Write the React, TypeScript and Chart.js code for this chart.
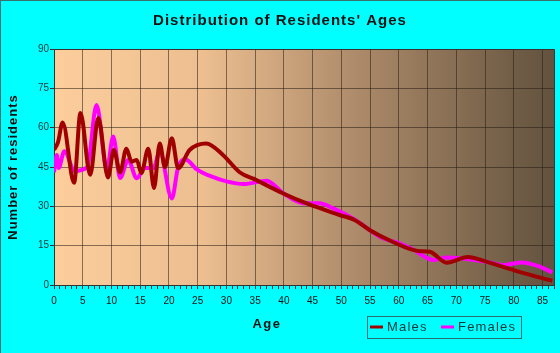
import { useEffect, useRef } from 'react';
import { Chart, registerables } from 'chart.js';

Chart.register(...registerables);

const chartTitle = "Distribution of Residents' Ages";
const xAxisTitle = 'Age';
const yAxisTitle = 'Number of residents';
const seriesNames = ['Males', 'Females'];

const maleAges = [0, 0.7, 1.5, 3.5, 4.6, 6.3, 7.7, 9.4, 10.4, 11.5, 12.6, 13.5, 14.4, 15.2, 16.4, 17.4, 18.4, 19.3, 20.5, 21.6, 23.6, 26.5, 29.4, 32.3, 35.2, 39.8, 44.2, 49.7, 52.3, 54.9, 58.9, 63.3, 65.4, 68.3, 72, 75.2, 81, 86.7];
const maleValues = [51.5, 54.5, 62, 39, 65.6, 42, 63.7, 41, 51.5, 43, 52, 47, 47.7, 42.7, 52, 37, 54, 45, 56, 44.6, 51.5, 54, 49.6, 43, 40, 35, 30.9, 26.7, 24.8, 21, 16.5, 13, 12.7, 8.5, 10.7, 8.9, 5, 1.6];

const femaleAges = [0, 0.5, 0.8, 1.8, 3.6, 5.8, 7.4, 9.2, 10.3, 11.5, 12.9, 14.4, 15.8, 17.3, 18.4, 20.5, 21.6, 22.8, 24.9, 27.6, 30, 33, 37, 39.9, 43.3, 46.2, 48.6, 52.3, 57.2, 60.1, 62.5, 65, 66, 68.3, 75.2, 78.1, 81.5, 84.5, 86.7];
const femaleValues = [43, 49.6, 44.6, 51, 43.5, 45, 68.6, 44, 56.6, 40.8, 47.7, 40.7, 44.6, 44.6, 50.8, 33, 45, 48, 44, 41.2, 39.5, 38.5, 39.8, 35, 31.2, 31.2, 29.2, 25, 17.8, 15.9, 13.5, 10.2, 9.5, 10.5, 8.9, 7.6, 8.6, 7, 4.8];

const xMin = 0;
const xMax = 87;
const xLabelStep = 5;
const yMin = 0;
const yMax = 90;
const yStep = 15;

const FONT = '"Liberation Sans", Arial, sans-serif';
const MALE_COLOR = '#a00000';
const FEMALE_COLOR = '#ff00ff';
const GRID_COLOR = 'rgba(40,30,20,0.55)';
const AXIS_COLOR = '#333333';

export default function App() {
  const ref = useRef<HTMLCanvasElement>(null);

  useEffect(() => {
    document.body.style.margin = '0';
    const canvas = ref.current;
    if (!canvas) return;

    const decor = {
      id: 'decor',
      beforeDraw(chart: any) {
        const { ctx, chartArea: a, width, height } = chart;
        ctx.save();
        ctx.fillStyle = '#00ffff';
        ctx.fillRect(0, 0, width, height);
        ctx.fillStyle = '#3a7070';
        ctx.fillRect(0, 0, width, 1);
        ctx.fillRect(0, 0, 1, height);
        const g = ctx.createLinearGradient(a.left, 0, a.right, 0);
        g.addColorStop(0, 'rgb(253,206,156)');
        g.addColorStop(0.3, 'rgb(236,190,144)');
        g.addColorStop(0.62, 'rgb(170,136,104)');
        g.addColorStop(1, 'rgb(98,82,62)');
        ctx.fillStyle = g;
        ctx.fillRect(a.left, a.top, a.right - a.left, a.bottom - a.top);
        ctx.restore();
      },
      beforeDatasetsDraw(chart: any) {
        const { ctx, chartArea: a } = chart;
        ctx.save();
        ctx.strokeStyle = AXIS_COLOR;
        ctx.lineWidth = 1;
        ctx.beginPath();
        ctx.moveTo(a.left, a.top + 0.5);
        ctx.lineTo(a.right + 0.5, a.top + 0.5);
        ctx.lineTo(a.right + 0.5, a.bottom);
        ctx.stroke();
        ctx.restore();
      },
      afterDraw(chart: any) {
        const { ctx } = chart;
        ctx.save();
        ctx.fillStyle = '#111111';
        ctx.textBaseline = 'middle';
        ctx.textAlign = 'center';
        ctx.font = `bold 15px ${FONT}`;
        (ctx as any).letterSpacing = '1px';
        ctx.fillText(chartTitle, 280, 21);

        ctx.font = `bold 13px ${FONT}`;
        (ctx as any).letterSpacing = '1.5px';
        ctx.fillText(xAxisTitle, 267, 324);

        ctx.save();
        ctx.translate(13, 167);
        ctx.rotate(-Math.PI / 2);
        (ctx as any).letterSpacing = '1px';
        ctx.fillText(yAxisTitle, 0, 0);
        ctx.restore();

        // legend
        ctx.strokeStyle = '#2a7070';
        ctx.lineWidth = 1;
        ctx.strokeRect(367.5, 316.5, 154, 22);
        ctx.lineWidth = 3;
        ctx.strokeStyle = MALE_COLOR;
        ctx.beginPath();
        ctx.moveTo(370, 327);
        ctx.lineTo(383, 327);
        ctx.stroke();
        ctx.strokeStyle = FEMALE_COLOR;
        ctx.beginPath();
        ctx.moveTo(441, 327);
        ctx.lineTo(454, 327);
        ctx.stroke();
        ctx.fillStyle = '#103838';
        ctx.font = `13px ${FONT}`;
        (ctx as any).letterSpacing = '1.2px';
        ctx.textAlign = 'left';
        ctx.fillText(seriesNames[0], 387, 327.5);
        ctx.fillText(seriesNames[1], 458, 327.5);
        ctx.restore();
      },
    };

    const chart = new Chart(canvas, {
      type: 'line',
      data: {
        datasets: [
          {
            label: seriesNames[0],
            data: maleAges.map((x, i) => ({ x, y: maleValues[i] })),
            borderColor: MALE_COLOR,
            borderWidth: 4,
            pointRadius: 0,
            cubicInterpolationMode: 'monotone',
            fill: false,
          },
          {
            label: seriesNames[1],
            data: femaleAges.map((x, i) => ({ x, y: femaleValues[i] })),
            borderColor: FEMALE_COLOR,
            borderWidth: 4,
            pointRadius: 0,
            cubicInterpolationMode: 'monotone',
            fill: false,
          },
        ],
      },
      options: {
        responsive: false,
        animation: false,
        layout: { padding: { top: 49, right: 6, left: 0, bottom: 0 } },
        plugins: {
          legend: { display: false },
          title: { display: false },
          tooltip: { enabled: false },
        },
        scales: {
          x: {
            type: 'linear',
            min: xMin,
            max: xMax,
            afterFit: (s: any) => {
              s.height = 68;
            },
            ticks: {
              stepSize: 1,
              autoSkip: false,
              maxRotation: 0,
              padding: 6,
              color: '#111111',
              font: { family: FONT, size: 10 },
              callback: (v: any) => (Number(v) % xLabelStep === 0 ? String(v) : ''),
            },
            grid: {
              color: (c: any) =>
                c.tick && Number(c.tick.value) % xLabelStep === 0 ? GRID_COLOR : 'rgba(0,0,0,0)',
              tickColor: AXIS_COLOR,
              tickLength: 4,
            },
            border: { display: true, color: AXIS_COLOR },
          },
          y: {
            min: yMin,
            max: yMax,
            afterFit: (s: any) => {
              s.width = 54;
            },
            ticks: {
              stepSize: yStep,
              padding: 1,
              color: '#1a3a3a',
              font: { family: FONT, size: 10 },
            },
            grid: {
              color: GRID_COLOR,
              tickColor: AXIS_COLOR,
              tickLength: 4,
            },
            border: { display: true, color: AXIS_COLOR },
          },
        },
      },
      plugins: [decor],
    } as any);

    return () => chart.destroy();
  }, []);

  return (
    <div style={{ position: 'fixed', left: 0, top: 0, width: 560, height: 353 }}>
      <canvas ref={ref} width={560} height={353} style={{ width: 560, height: 353, display: 'block' }} />
    </div>
  );
}
